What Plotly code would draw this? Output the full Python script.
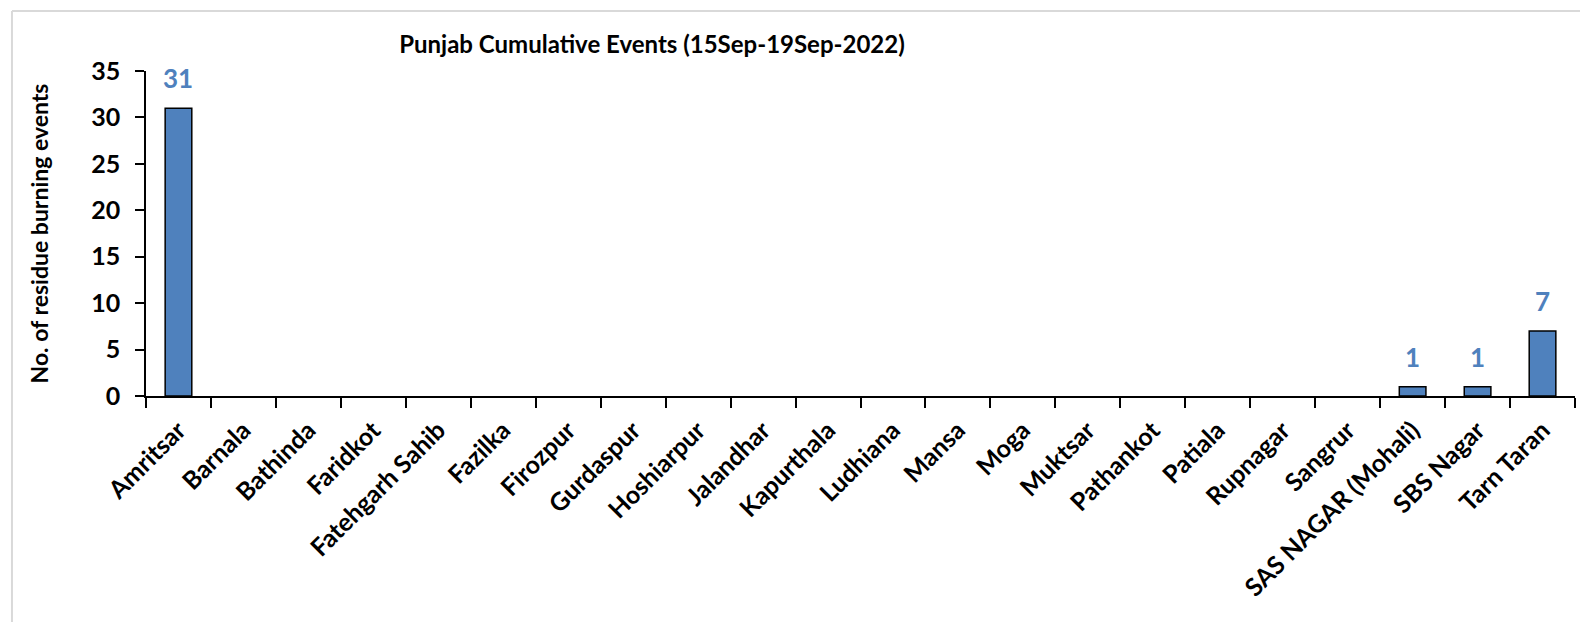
"""Punjab residue burning events, 15-19 Sep 2022, as a Plotly bar chart."""

import plotly.graph_objects as go

DISTRICTS = [
    "Amritsar", "Barnala", "Bathinda", "Faridkot", "Fatehgarh Sahib",
    "Fazilka", "Firozpur", "Gurdaspur", "Hoshiarpur", "Jalandhar",
    "Kapurthala", "Ludhiana", "Mansa", "Moga", "Muktsar", "Pathankot",
    "Patiala", "Rupnagar", "Sangrur", "SAS NAGAR (Mohali)", "SBS Nagar",
    "Tarn Taran",
]
EVENTS = [31, 0, 0, 0, 0, 0, 0, 0, 0, 0, 0, 0, 0, 0, 0, 0, 0, 0, 0, 1, 1, 7]
Y_TICKS = [0, 5, 10, 15, 20, 25, 30, 35]

TITLE = "Punjab Cumulative Events (15Sep-19Sep-2022)"
Y_TITLE = "No. of residue burning events"

BAR_BLUE = "#4f81bd"
LABEL_BLUE = "#4f81bd"
FRAME_GREY = "#d9d9d9"
FONT = "Lato"

# the page body adds an 8px margin all round; keep the figure inside the
# window so no scrollbars show up
W, H = 1572, 614

fig = go.Figure()
fig.add_trace(
    go.Bar(
        x=DISTRICTS,
        y=EVENTS,
        width=0.41,
        marker={
            "color": BAR_BLUE,
            # no outline on empty bars, otherwise they smear the axis line
            "line": {"color": "#000000", "width": [1.5 if v else 0 for v in EVENTS]},
        },
        hoverinfo="x+y",
        showlegend=False,
    )
)

# value labels floated a little above each non-zero bar
for name, value in zip(DISTRICTS, EVENTS):
    if value:
        fig.add_annotation(
            x=name,
            y=value,
            text=f"<b>{value}</b>",
            showarrow=False,
            yanchor="bottom",
            yshift=12,
            font={"family": FONT, "size": 26, "color": LABEL_BLUE},
        )

# chart-area frame: only the top and left edges are inside the crop
frame_left, frame_top = -0.0938, 1.1846
fig.add_shape(
    type="line", xref="paper", yref="paper",
    x0=frame_left, x1=1.2, y0=frame_top, y1=frame_top,
    line={"color": FRAME_GREY, "width": 2}, layer="below",
)
fig.add_shape(
    type="line", xref="paper", yref="paper",
    x0=frame_left, x1=frame_left, y0=-1.0, y1=frame_top,
    line={"color": FRAME_GREY, "width": 2}, layer="below",
)

fig.update_layout(
    width=W,
    height=H,
    margin={"l": 138, "r": 5, "t": 63, "b": 226},
    paper_bgcolor="#ffffff",
    plot_bgcolor="#ffffff",
    font={"family": FONT, "color": "#000000"},
    title={
        "text": f"<b>{TITLE}</b>",
        "x": (652 - 8) / W,
        "xanchor": "center",
        "y": 1 - (45 - 8) / H,
        "yanchor": "middle",
        "font": {"family": FONT, "size": 24, "color": "#000000"},
    },
)

fig.update_xaxes(
    type="category",
    tickangle=-45,
    tickson="boundaries",
    ticks="outside",
    ticklen=10,
    tickwidth=1.5,
    tickcolor="#000000",
    ticklabelstandoff=8,
    showline=True,
    linecolor="#000000",
    linewidth=1.5,
    showgrid=False,
    tickfont={"family": FONT, "size": 25, "color": "#000000", "weight": "bold"},
)

fig.update_yaxes(
    range=[0, 35],
    tickvals=Y_TICKS,
    ticks="outside",
    ticklen=9,
    tickwidth=1.5,
    tickcolor="#000000",
    ticklabelstandoff=10,
    showline=True,
    linecolor="#000000",
    linewidth=1.5,
    showgrid=False,
    zeroline=False,
    tickfont={"family": FONT, "size": 25, "color": "#000000", "weight": "bold"},
    title={
        "text": f"<b>{Y_TITLE}</b>",
        "font": {"family": FONT, "size": 23, "color": "#000000"},
        "standoff": 36,
    },
)

fig.write_html("out.html")
